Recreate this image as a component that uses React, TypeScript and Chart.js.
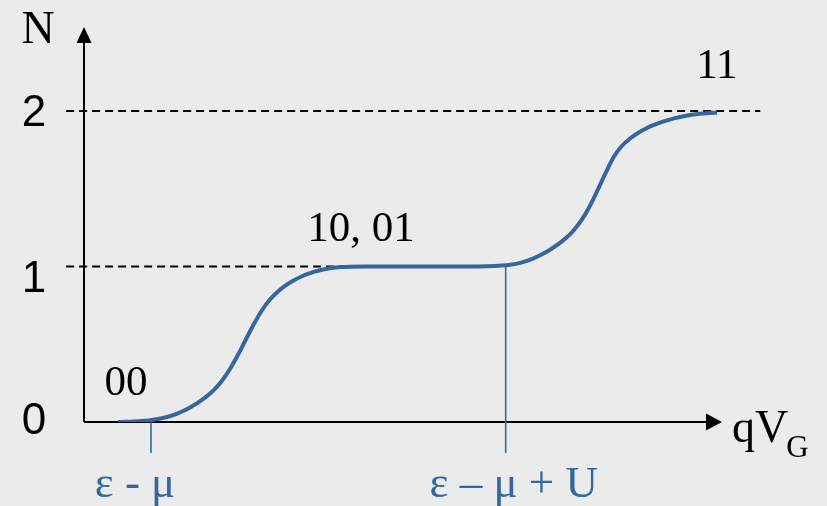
import React, { useEffect, useRef } from "react";
import { Chart, registerables } from "chart.js";

Chart.register(...registerables);

// Gate-voltage axis (arbitrary units) and average occupation N along the staircase
const gateVoltage = [
  5.33, 6.58, 7.84, 9.09, 10.34, 11.6, 12.85, 14.11, 15.36, 16.61, 17.87, 19.12,
  20.38, 21.63, 22.88, 24.14, 25.39, 26.65, 27.9, 29.15, 30.41, 31.66, 32.92, 34.17,
  35.42, 36.68, 37.93, 39.18, 40.44, 41.69, 44.2,
  60.5, 61.76, 63.01, 64.26, 65.52, 66.77, 68.03, 69.28, 70.53, 71.79, 73.04, 74.29,
  75.55, 76.8, 78.06, 79.31, 80.56, 81.82, 83.07, 84.33, 85.58, 86.83, 88.09, 89.34,
  90.6, 92.48, 94.36, 96.24, 99.22,
];
const occupation = [
  0, 0.001, 0.0031, 0.0067, 0.0118, 0.019, 0.0303, 0.0456, 0.0672, 0.0938, 0.1246, 0.1615,
  0.2067, 0.2656, 0.341, 0.4323, 0.5323, 0.6313, 0.7185, 0.7877, 0.839, 0.88, 0.9118, 0.9374,
  0.9569, 0.9723, 0.9836, 0.9913, 0.9964, 0.999, 1.0,
  1.0, 1.0005, 1.0015, 1.0031, 1.0062, 1.0113, 1.0201, 1.034, 1.0535, 1.0782, 1.1075, 1.1415,
  1.1826, 1.2351, 1.303, 1.3905, 1.496, 1.6066, 1.7069, 1.7763, 1.8226, 1.8587, 1.8869, 1.9101,
  1.9297, 1.9528, 1.9698, 1.9806, 1.9904,
];

// Level markers on the N axis
const levelValues = [0, 1, 2];
const levelLabels = ["0", "1", "2"];

// Resonance positions on the gate axis
const resonanceValues = [10.5, 66.1];
const resonanceLabels = ["ε - μ", "ε – μ + U"];

// State labels placed next to the plateaus
const stateLabels = ["00", "10, 01", "11"];
const stateX = [6.6, 43.4, 99.2];
const stateN = [0.175, 1.165, 2.21];

const X_MAX = 100;
const N_MAX = 2.54;

const CURVE = "#34679f";
const SERIF = '"Liberation Serif", "Times New Roman", serif';
const SANS = '"Liberation Sans", Arial, sans-serif';

const staircaseDecor = {
  id: "staircaseDecor",
  beforeDatasetsDraw(chart: any) {
    const { ctx } = chart;
    const xs = chart.scales.x;
    const ys = chart.scales.y;
    const px = (v: number) => xs.getPixelForValue(v);
    const py = (v: number) => ys.getPixelForValue(v);
    ctx.save();

    // dashed guides at N = 1 and N = 2
    ctx.strokeStyle = "#000";
    ctx.lineWidth = 1.8;
    ctx.setLineDash([8, 5]);
    ctx.beginPath();
    ctx.moveTo(px(-2.8), py(2));
    ctx.lineTo(px(106), py(2));
    ctx.moveTo(px(-2.8), py(1));
    ctx.lineTo(px(43.5), py(1));
    ctx.stroke();
    ctx.setLineDash([]);

    // axes
    ctx.lineWidth = 2;
    ctx.beginPath();
    ctx.moveTo(px(0), py(0));
    ctx.lineTo(px(0), py(N_MAX) + 14);
    ctx.moveTo(px(0), py(0));
    ctx.lineTo(px(X_MAX) - 14, py(0));
    ctx.stroke();

    // arrow heads
    ctx.fillStyle = "#000";
    ctx.beginPath();
    ctx.moveTo(px(0), py(N_MAX));
    ctx.lineTo(px(0) - 7.5, py(N_MAX) + 16);
    ctx.lineTo(px(0) + 7.5, py(N_MAX) + 16);
    ctx.closePath();
    ctx.fill();
    ctx.beginPath();
    ctx.moveTo(px(X_MAX), py(0));
    ctx.lineTo(px(X_MAX) - 16, py(0) - 8.5);
    ctx.lineTo(px(X_MAX) - 16, py(0) + 8.5);
    ctx.closePath();
    ctx.fill();

    // resonance markers
    ctx.strokeStyle = CURVE;
    ctx.lineWidth = 1.6;
    ctx.beginPath();
    ctx.moveTo(px(resonanceValues[0]), py(0));
    ctx.lineTo(px(resonanceValues[0]), py(-0.2));
    ctx.moveTo(px(resonanceValues[1]), py(1.01));
    ctx.lineTo(px(resonanceValues[1]), py(-0.2));
    ctx.stroke();
    ctx.restore();
  },
  afterDraw(chart: any) {
    const { ctx } = chart;
    const xs = chart.scales.x;
    const ys = chart.scales.y;
    const px = (v: number) => xs.getPixelForValue(v);
    const py = (v: number) => ys.getPixelForValue(v);
    ctx.save();
    ctx.textBaseline = "alphabetic";
    ctx.textAlign = "center";

    // N axis level labels
    ctx.fillStyle = "#000";
    ctx.font = `44px ${SANS}`;
    const levelShift = [12, 26, 15];
    levelValues.forEach((v, i) => {
      ctx.fillText(levelLabels[i], 34, py(v) + levelShift[i]);
    });

    // axis titles
    ctx.font = `46px ${SERIF}`;
    ctx.fillText("N", 38, 43);
    ctx.textAlign = "left";
    ctx.fillText("qV", 732, py(0) + 20);
    const qvW = ctx.measureText("qV").width;
    ctx.font = `31px ${SERIF}`;
    ctx.fillText("G", 730 + qvW, py(0) + 35);

    // state labels
    ctx.textAlign = "center";
    ctx.font = `43px ${SERIF}`;
    stateLabels.forEach((s, i) => {
      ctx.fillText(s, px(stateX[i]), py(stateN[i]));
    });

    // resonance labels
    ctx.fillStyle = CURVE;
    ctx.font = `45px ${SERIF}`;
    ctx.fillText(resonanceLabels[0], px(resonanceValues[0]) - 16, 497);
    ctx.fillText(resonanceLabels[1], px(resonanceValues[1]) + 8, 497);
    ctx.restore();
  },
};

export default function App() {
  const canvasRef = useRef<HTMLCanvasElement | null>(null);

  useEffect(() => {
    const canvas = canvasRef.current;
    if (!canvas) return;
    const chart = new Chart(canvas, {
      type: "line",
      data: {
        datasets: [
          {
            data: gateVoltage.map((x, i) => ({ x, y: occupation[i] })),
            borderColor: CURVE,
            borderWidth: 4,
            pointRadius: 0,
            cubicInterpolationMode: "monotone",
            fill: false,
          },
        ],
      },
      options: {
        responsive: false,
        animation: false,
        layout: { padding: { left: 84, right: 105, top: 27, bottom: 84 } },
        plugins: { legend: { display: false }, tooltip: { enabled: false } },
        scales: {
          x: { type: "linear", min: 0, max: X_MAX, display: false },
          y: { type: "linear", min: 0, max: N_MAX, display: false },
        },
      },
      plugins: [staircaseDecor],
    });
    return () => chart.destroy();
  }, []);

  return (
    <div
      style={{
        position: "fixed",
        left: 0,
        top: 0,
        width: 827,
        height: 506,
        background: "#ebebeb",
      }}
    >
      <canvas ref={canvasRef} width={827} height={506} />
    </div>
  );
}
